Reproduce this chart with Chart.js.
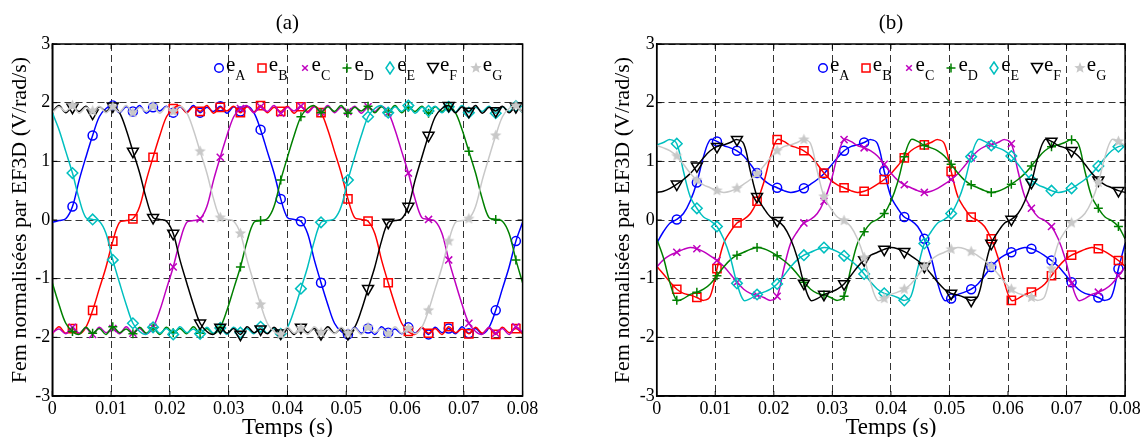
<!DOCTYPE html>
<html>
<head>
<meta charset="utf-8">
<script src="https://cdn.jsdelivr.net/npm/chart.js@4.4.1/dist/chart.umd.min.js"></script>
<style>
  html, body { margin: 0; padding: 0; background: #fff; }
  #page { position: relative; width: 1144px; height: 437px; overflow: hidden; font-family: "Liberation Serif", serif; }
  .panel { position: absolute; top: 0; height: 450px; }
  .item { position: absolute; top: 54px; height: 30px; color: #000; white-space: nowrap; }
  .item svg { position: absolute; left: 0; top: 7px; }
  .item .lt { position: absolute; left: 14px; top: 0; font-size: 21px; line-height: 21px; }
  .item sub { font-size: 14px; vertical-align: baseline; position: relative; top: 9px; }
</style>
</head>
<body>
<div id="page">
  <div class="panel" style="left:0;width:570px"><canvas id="chartA" width="570" height="450"></canvas></div>
  <div class="panel" style="left:570px;width:574px"><canvas id="chartB" width="574" height="450"></canvas></div>
</div>
<script>
// time (s)
const t = [0, 0.00114, 0.00229, 0.00343, 0.00457, 0.00571, 0.00686, 0.008, 0.00914, 0.01029,
  0.01143, 0.01257, 0.01371, 0.01486, 0.016, 0.01714, 0.01829, 0.01943, 0.02057, 0.02171,
  0.02286, 0.024, 0.02514, 0.02629, 0.02743, 0.02857, 0.02971, 0.03086, 0.032, 0.03314,
  0.03429, 0.03543, 0.03657, 0.03771, 0.03886, 0.04, 0.04114, 0.04229, 0.04343, 0.04457,
  0.04571, 0.04686, 0.048, 0.04914, 0.05029, 0.05143, 0.05257, 0.05371, 0.05486, 0.056,
  0.05714, 0.05829, 0.05943, 0.06057, 0.06171, 0.06286, 0.064, 0.06514, 0.06629, 0.06743,
  0.06857, 0.06971, 0.07086, 0.072, 0.07314, 0.07429, 0.07543, 0.07657, 0.07771, 0.07886, 0.08];

// points that carry a marker
const marks = [3, 6, 9, 12, 15, 18, 22, 25, 28, 31, 34, 37, 40, 44, 47, 50, 53, 56, 59, 62, 66, 69];

const xTicks = [0, 0.01, 0.02, 0.03, 0.04, 0.05, 0.06, 0.07, 0.08];
const yTicks = [-3, -2, -1, 0, 1, 2, 3];

// (a)
const eA_a = [-0.04, -0.01, 0.02, 0.23, 0.68, 1.07, 1.44, 1.76, 1.9, 1.95,
  1.83, 1.93, 1.85, 1.95, 1.82, 1.92, 1.86, 1.94, 1.83, 1.93,
  1.84, 1.95, 1.83, 1.92, 1.85, 1.94, 1.82, 1.93, 1.85, 1.94,
  1.83, 1.54, 1.17, 0.8, 0.36, 0.04, 0.01, -0.02, -0.23, -0.68,
  -1.07, -1.44, -1.76, -1.9, -1.95, -1.83, -1.93, -1.85, -1.95, -1.82,
  -1.92, -1.86, -1.94, -1.83, -1.93, -1.84, -1.95, -1.83, -1.92, -1.85,
  -1.94, -1.82, -1.93, -1.85, -1.94, -1.83, -1.54, -1.17, -0.8, -0.36, -0.04];
const eB_a = [-1.94, -1.82, -1.93, -1.85, -1.94, -1.83, -1.54, -1.17, -0.8, -0.36,
  -0.04, -0.01, 0.02, 0.23, 0.68, 1.07, 1.44, 1.76, 1.9, 1.95,
  1.83, 1.93, 1.85, 1.95, 1.82, 1.92, 1.86, 1.94, 1.83, 1.93,
  1.84, 1.95, 1.83, 1.92, 1.85, 1.94, 1.82, 1.93, 1.85, 1.94,
  1.83, 1.54, 1.17, 0.8, 0.36, 0.04, 0.01, -0.02, -0.23, -0.68,
  -1.07, -1.44, -1.76, -1.9, -1.95, -1.83, -1.93, -1.85, -1.95, -1.82,
  -1.92, -1.86, -1.94, -1.83, -1.93, -1.84, -1.95, -1.83, -1.92, -1.85, -1.94];
const eC_a = [-1.92, -1.86, -1.94, -1.83, -1.93, -1.84, -1.95, -1.83, -1.92, -1.85,
  -1.94, -1.82, -1.93, -1.85, -1.94, -1.83, -1.54, -1.17, -0.8, -0.36,
  -0.04, -0.01, 0.02, 0.23, 0.68, 1.07, 1.44, 1.76, 1.9, 1.95,
  1.83, 1.93, 1.85, 1.95, 1.82, 1.92, 1.86, 1.94, 1.83, 1.93,
  1.84, 1.95, 1.83, 1.92, 1.85, 1.94, 1.82, 1.93, 1.85, 1.94,
  1.83, 1.54, 1.17, 0.8, 0.36, 0.04, 0.01, -0.02, -0.23, -0.68,
  -1.07, -1.44, -1.76, -1.9, -1.95, -1.83, -1.93, -1.85, -1.95, -1.82, -1.92];
const eD_a = [-1.07, -1.44, -1.76, -1.9, -1.95, -1.83, -1.93, -1.85, -1.95, -1.82,
  -1.92, -1.86, -1.94, -1.83, -1.93, -1.84, -1.95, -1.83, -1.92, -1.85,
  -1.94, -1.82, -1.93, -1.85, -1.94, -1.83, -1.54, -1.17, -0.8, -0.36,
  -0.04, -0.01, 0.02, 0.23, 0.68, 1.07, 1.44, 1.76, 1.9, 1.95,
  1.83, 1.93, 1.85, 1.95, 1.82, 1.92, 1.86, 1.94, 1.83, 1.93,
  1.84, 1.95, 1.83, 1.92, 1.85, 1.94, 1.82, 1.93, 1.85, 1.94,
  1.83, 1.54, 1.17, 0.8, 0.36, 0.04, 0.01, -0.02, -0.23, -0.68, -1.07];
const eE_a = [1.83, 1.54, 1.17, 0.8, 0.36, 0.04, 0.01, -0.02, -0.23, -0.68,
  -1.07, -1.44, -1.76, -1.9, -1.95, -1.83, -1.93, -1.85, -1.95, -1.82,
  -1.92, -1.86, -1.94, -1.83, -1.93, -1.84, -1.95, -1.83, -1.92, -1.85,
  -1.94, -1.82, -1.93, -1.85, -1.94, -1.83, -1.54, -1.17, -0.8, -0.36,
  -0.04, -0.01, 0.02, 0.23, 0.68, 1.07, 1.44, 1.76, 1.9, 1.95,
  1.83, 1.93, 1.85, 1.95, 1.82, 1.92, 1.86, 1.94, 1.83, 1.93,
  1.84, 1.95, 1.83, 1.92, 1.85, 1.94, 1.82, 1.93, 1.85, 1.94, 1.83];
const eF_a = [1.84, 1.95, 1.83, 1.92, 1.85, 1.94, 1.82, 1.93, 1.85, 1.94,
  1.83, 1.54, 1.17, 0.8, 0.36, 0.04, 0.01, -0.02, -0.23, -0.68,
  -1.07, -1.44, -1.76, -1.9, -1.95, -1.83, -1.93, -1.85, -1.95, -1.82,
  -1.92, -1.86, -1.94, -1.83, -1.93, -1.84, -1.95, -1.83, -1.92, -1.85,
  -1.94, -1.82, -1.93, -1.85, -1.94, -1.83, -1.54, -1.17, -0.8, -0.36,
  -0.04, -0.01, 0.02, 0.23, 0.68, 1.07, 1.44, 1.76, 1.9, 1.95,
  1.83, 1.93, 1.85, 1.95, 1.82, 1.92, 1.86, 1.94, 1.83, 1.93, 1.84];
const eG_a = [1.83, 1.93, 1.85, 1.95, 1.82, 1.92, 1.86, 1.94, 1.83, 1.93,
  1.84, 1.95, 1.83, 1.92, 1.85, 1.94, 1.82, 1.93, 1.85, 1.94,
  1.83, 1.54, 1.17, 0.8, 0.36, 0.04, 0.01, -0.02, -0.23, -0.68,
  -1.07, -1.44, -1.76, -1.9, -1.95, -1.83, -1.93, -1.85, -1.95, -1.82,
  -1.92, -1.86, -1.94, -1.83, -1.93, -1.84, -1.95, -1.83, -1.92, -1.85,
  -1.94, -1.82, -1.93, -1.85, -1.94, -1.83, -1.54, -1.17, -0.8, -0.36,
  -0.04, -0.01, 0.02, 0.23, 0.68, 1.07, 1.44, 1.76, 1.9, 1.95, 1.83];

// (b)
const eA_b = [-0.4, -0.2, -0.05, 0.01, 0.11, 0.32, 0.64, 1.08, 1.37, 1.34,
  1.27, 1.23, 1.18, 1.09, 0.95, 0.8, 0.68, 0.6, 0.55, 0.5,
  0.47, 0.49, 0.54, 0.61, 0.69, 0.79, 0.92, 1.06, 1.18, 1.25,
  1.28, 1.32, 1.37, 1.3, 0.83, 0.4, 0.2, 0.05, -0.01, -0.11,
  -0.32, -0.64, -1.08, -1.37, -1.34, -1.27, -1.23, -1.18, -1.09, -0.95,
  -0.8, -0.68, -0.6, -0.55, -0.5, -0.47, -0.49, -0.54, -0.61, -0.69,
  -0.79, -0.92, -1.06, -1.18, -1.25, -1.28, -1.32, -1.37, -1.3, -0.83, -0.4];
const eB_b = [-0.79, -0.92, -1.06, -1.18, -1.25, -1.28, -1.32, -1.37, -1.3, -0.83,
  -0.4, -0.2, -0.05, 0.01, 0.11, 0.32, 0.64, 1.08, 1.37, 1.34,
  1.27, 1.23, 1.18, 1.09, 0.95, 0.8, 0.68, 0.6, 0.55, 0.5,
  0.47, 0.49, 0.54, 0.61, 0.69, 0.79, 0.92, 1.06, 1.18, 1.25,
  1.28, 1.32, 1.37, 1.3, 0.83, 0.4, 0.2, 0.05, -0.01, -0.11,
  -0.32, -0.64, -1.08, -1.37, -1.34, -1.27, -1.23, -1.18, -1.09, -0.95,
  -0.8, -0.68, -0.6, -0.55, -0.5, -0.47, -0.49, -0.54, -0.61, -0.69, -0.79];
const eC_b = [-0.8, -0.68, -0.6, -0.55, -0.5, -0.47, -0.49, -0.54, -0.61, -0.69,
  -0.79, -0.92, -1.06, -1.18, -1.25, -1.28, -1.32, -1.37, -1.3, -0.83,
  -0.4, -0.2, -0.05, 0.01, 0.11, 0.32, 0.64, 1.08, 1.37, 1.34,
  1.27, 1.23, 1.18, 1.09, 0.95, 0.8, 0.68, 0.6, 0.55, 0.5,
  0.47, 0.49, 0.54, 0.61, 0.69, 0.79, 0.92, 1.06, 1.18, 1.25,
  1.28, 1.32, 1.37, 1.3, 0.83, 0.4, 0.2, 0.05, -0.01, -0.11,
  -0.32, -0.64, -1.08, -1.37, -1.34, -1.27, -1.23, -1.18, -1.09, -0.95, -0.8];
const eD_b = [-0.32, -0.64, -1.08, -1.37, -1.34, -1.27, -1.23, -1.18, -1.09, -0.95,
  -0.8, -0.68, -0.6, -0.55, -0.5, -0.47, -0.49, -0.54, -0.61, -0.69,
  -0.79, -0.92, -1.06, -1.18, -1.25, -1.28, -1.32, -1.37, -1.3, -0.83,
  -0.4, -0.2, -0.05, 0.01, 0.11, 0.32, 0.64, 1.08, 1.37, 1.34,
  1.27, 1.23, 1.18, 1.09, 0.95, 0.8, 0.68, 0.6, 0.55, 0.5,
  0.47, 0.49, 0.54, 0.61, 0.69, 0.79, 0.92, 1.06, 1.18, 1.25,
  1.28, 1.32, 1.37, 1.3, 0.83, 0.4, 0.2, 0.05, -0.01, -0.11, -0.32];
const eE_b = [1.28, 1.32, 1.37, 1.3, 0.83, 0.4, 0.2, 0.05, -0.01, -0.11,
  -0.32, -0.64, -1.08, -1.37, -1.34, -1.27, -1.23, -1.18, -1.09, -0.95,
  -0.8, -0.68, -0.6, -0.55, -0.5, -0.47, -0.49, -0.54, -0.61, -0.69,
  -0.79, -0.92, -1.06, -1.18, -1.25, -1.28, -1.32, -1.37, -1.3, -0.83,
  -0.4, -0.2, -0.05, 0.01, 0.11, 0.32, 0.64, 1.08, 1.37, 1.34,
  1.27, 1.23, 1.18, 1.09, 0.95, 0.8, 0.68, 0.6, 0.55, 0.5,
  0.47, 0.49, 0.54, 0.61, 0.69, 0.79, 0.92, 1.06, 1.18, 1.25, 1.28];
const eF_b = [0.47, 0.49, 0.54, 0.61, 0.69, 0.79, 0.92, 1.06, 1.18, 1.25,
  1.28, 1.32, 1.37, 1.3, 0.83, 0.4, 0.2, 0.05, -0.01, -0.11,
  -0.32, -0.64, -1.08, -1.37, -1.34, -1.27, -1.23, -1.18, -1.09, -0.95,
  -0.8, -0.68, -0.6, -0.55, -0.5, -0.47, -0.49, -0.54, -0.61, -0.69,
  -0.79, -0.92, -1.06, -1.18, -1.25, -1.28, -1.32, -1.37, -1.3, -0.83,
  -0.4, -0.2, -0.05, 0.01, 0.11, 0.32, 0.64, 1.08, 1.37, 1.34,
  1.27, 1.23, 1.18, 1.09, 0.95, 0.8, 0.68, 0.6, 0.55, 0.5, 0.47];
const eG_b = [1.27, 1.23, 1.18, 1.09, 0.95, 0.8, 0.68, 0.6, 0.55, 0.5,
  0.47, 0.49, 0.54, 0.61, 0.69, 0.79, 0.92, 1.06, 1.18, 1.25,
  1.28, 1.32, 1.37, 1.3, 0.83, 0.4, 0.2, 0.05, -0.01, -0.11,
  -0.32, -0.64, -1.08, -1.37, -1.34, -1.27, -1.23, -1.18, -1.09, -0.95,
  -0.8, -0.68, -0.6, -0.55, -0.5, -0.47, -0.49, -0.54, -0.61, -0.69,
  -0.79, -0.92, -1.06, -1.18, -1.25, -1.28, -1.32, -1.37, -1.3, -0.83,
  -0.4, -0.2, -0.05, 0.01, 0.11, 0.32, 0.64, 1.08, 1.37, 1.34, 1.27];

const names = ['A', 'B', 'C', 'D', 'E', 'F', 'G'];
const colors = ['#0000ff', '#ff0000', '#bf00bf', '#008000', '#00bfbf', '#000000', '#c8c8c8'];

// filled pentagram used for e_G
function starImg(size, color) {
  const c = document.createElement('canvas');
  c.width = c.height = size;
  const g = c.getContext('2d');
  const r = size / 2 - 0.5, ri = r * 0.45;
  g.beginPath();
  for (let k = 0; k < 10; k++) {
    const a = -Math.PI / 2 + k * Math.PI / 5;
    const rr = k % 2 ? ri : r;
    g.lineTo(size / 2 + rr * Math.cos(a), size / 2 + rr * Math.sin(a));
  }
  g.closePath();
  g.fillStyle = color;
  g.fill();
  return c;
}
const styles = ['circle', 'rect', 'crossRot', 'cross', 'rectRot', 'triangle', starImg(13, '#c8c8c8')];
const radii = [4.5, 5.8, 5, 4.5, 5.3, 6.3, 6];

Chart.defaults.font.family = '"Liberation Serif", serif';
Chart.defaults.color = '#000';

function makeSets(series) {
  return series.map((vals, k) => ({
    label: 'e' + names[k],
    data: t.map((x, i) => ({ x: x, y: vals[i] })),
    borderColor: colors[k],
    borderWidth: 1.5,
    tension: 0.35,
    fill: false,
    pointStyle: styles[k],
    rotation: k === 5 ? 180 : 0,
    pointRadius: t.map((_, i) => marks.includes(i) ? radii[k] : 0),
    pointBorderColor: colors[k],
    pointBorderWidth: 1.5,
    pointBackgroundColor: 'rgba(0,0,0,0)',
    order: 6 - k
  }));
}

// box and inward ticks
const frame = {
  id: 'frame',
  afterDatasetsDraw(chart) {
    const { ctx, chartArea: a, scales: { x, y } } = chart;
    ctx.save();
    ctx.strokeStyle = '#000';
    ctx.lineWidth = 1;
    ctx.beginPath();
    xTicks.forEach(v => {
      const px = x.getPixelForValue(v);
      ctx.moveTo(px, a.bottom); ctx.lineTo(px, a.bottom - 5);
      ctx.moveTo(px, a.top); ctx.lineTo(px, a.top + 5);
    });
    yTicks.forEach(v => {
      const py = y.getPixelForValue(v);
      ctx.moveTo(a.left, py); ctx.lineTo(a.left + 5, py);
      ctx.moveTo(a.right, py); ctx.lineTo(a.right - 5, py);
    });
    ctx.stroke();
    ctx.lineWidth = 1.5;
    ctx.strokeRect(a.left, a.top, a.right - a.left, a.bottom - a.top);
    ctx.restore();
  }
};

function makeChart(id, title, series, axisW, rightPad, yTitlePad) {
  return new Chart(document.getElementById(id), {
    type: 'line',
    data: { datasets: makeSets(series) },
    plugins: [frame],
    options: {
      responsive: false,
      animation: false,
      devicePixelRatio: 1,
      events: [],
      layout: { padding: { left: 0, right: rightPad, top: 0, bottom: 0 } },
      plugins: {
        legend: { display: false },
        tooltip: { enabled: false },
        title: {
          display: true, text: title, fullSize: false, color: '#000',
          font: { size: 21, weight: 'normal' },
          padding: { top: 11, bottom: 7.8 }
        }
      },
      scales: {
        x: {
          type: 'linear', min: 0, max: 0.08,
          afterFit: s => { s.height = 54; },
          afterBuildTicks: s => { s.ticks = xTicks.map(v => ({ value: v })); },
          ticks: {
            padding: 2, font: { size: 18 }, color: '#000', maxRotation: 0, autoSkip: false,
            callback: v => v === 0 ? '0' : v.toFixed(2)
          },
          grid: { color: 'rgba(0,0,0,0.8)', lineWidth: 1, drawTicks: false },
          border: { display: true, color: '#000', width: 1.5, dash: [7, 4] },
          title: { display: true, text: 'Temps (s)', font: { size: 23 }, color: '#000', padding: { top: 0, bottom: 8.2 } }
        },
        y: {
          min: -3, max: 3,
          afterFit: s => { s.width = axisW; },
          afterBuildTicks: s => { s.ticks = yTicks.map(v => ({ value: v })); },
          ticks: { padding: 2, font: { size: 18 }, color: '#000', callback: v => String(v) },
          grid: { color: 'rgba(0,0,0,0.8)', lineWidth: 1, drawTicks: false },
          border: { display: true, color: '#000', width: 1.5, dash: [7, 4] },
          title: { display: true, text: 'Fem normalisées par EF3D (V/rad/s)', font: { size: 22 }, color: '#000', padding: { top: yTitlePad, bottom: 0 } }
        }
      }
    }
  });
}

makeChart('chartA', '(a)', [eA_a, eB_a, eC_a, eD_a, eE_a, eF_a, eG_a], 52.3, 47.4, 6.8);
makeChart('chartB', '(b)', [eA_b, eB_b, eC_b, eD_b, eE_b, eF_b, eG_b], 86.7, 18.9, 39.8);

// legends (HTML, with subscripts)
const svgs = [
  '<svg width="14" height="14"><circle cx="7" cy="7" r="4.3" fill="none" stroke="#0000ff" stroke-width="1.5"/></svg>',
  '<svg width="14" height="14"><rect x="3" y="3" width="8" height="8" fill="none" stroke="#ff0000" stroke-width="1.5"/></svg>',
  '<svg width="14" height="14"><path d="M4.2 4.2L9.8 9.8M9.8 4.2L4.2 9.8" stroke="#bf00bf" stroke-width="1.5"/></svg>',
  '<svg width="14" height="14"><path d="M7 2.5V11.5M2.5 7H11.5" stroke="#008000" stroke-width="1.5"/></svg>',
  '<svg width="14" height="14"><path d="M7 1L11 7L7 13L3 7Z" fill="none" stroke="#00bfbf" stroke-width="1.5"/></svg>',
  '<svg width="14" height="14"><path d="M1.5 2.5H12.5L7 12Z" fill="none" stroke="#000000" stroke-width="1.5"/></svg>',
  '<svg width="14" height="14"><polygon points="7,1 8.53,4.9 12.71,5.15 9.47,7.8 10.53,11.85 7,9.6 3.47,11.85 4.53,7.8 1.29,5.15 5.47,4.9" fill="#c8c8c8"/></svg>'
];
function legend(x0) {
  const page = document.getElementById('page');
  names.forEach((n, k) => {
    const d = document.createElement('div');
    d.className = 'item';
    d.style.left = (x0 + 42.8 * k - 7) + 'px';
    d.innerHTML = svgs[k] + '<span class="lt">e<sub>' + n + '</sub></span>';
    page.appendChild(d);
  });
}
legend(219);
legend(823);
</script>
</body>
</html>
